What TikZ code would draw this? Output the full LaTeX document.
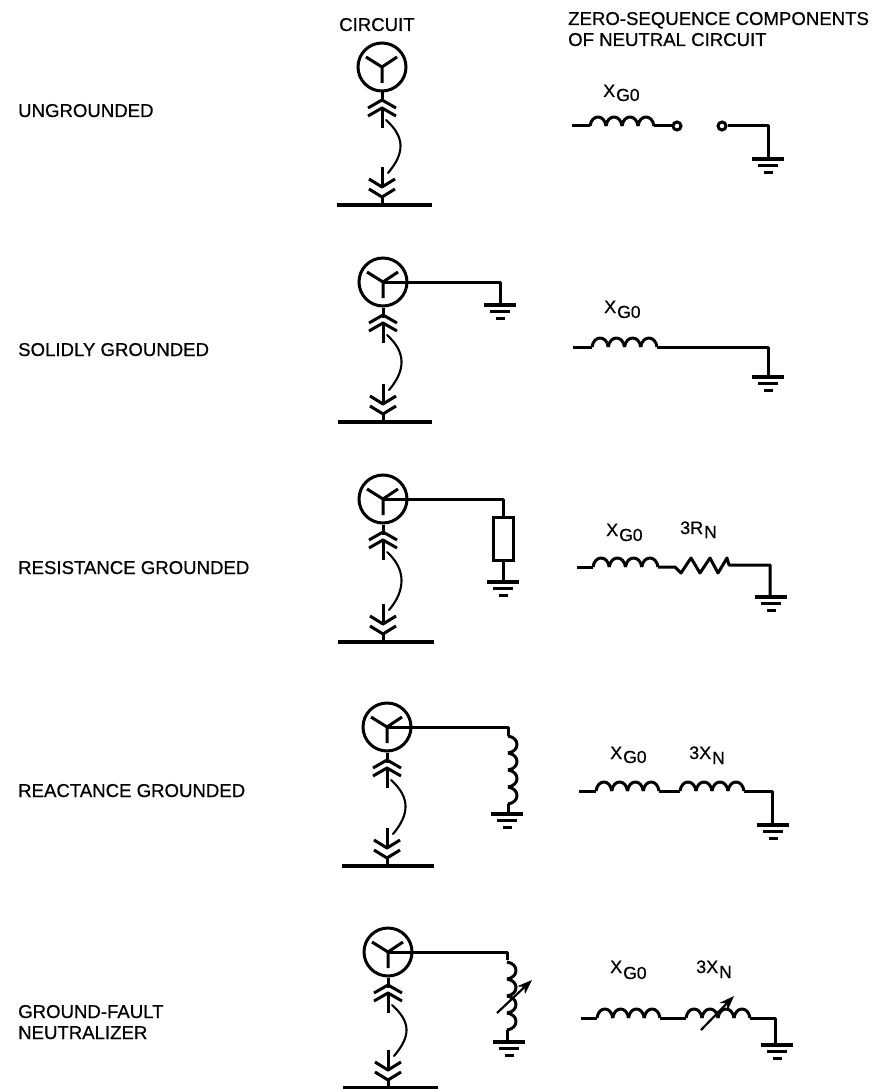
\documentclass[tikz,border=0pt]{standalone}
\usepackage{fontspec}
\setmainfont{Liberation Sans}
\newfontfamily\labfont[FakeBold=0.6]{Liberation Sans}
\usetikzlibrary{arrows.meta,calc}
\tikzset{
  x=1pt,y=-1pt,
  wire/.style={line width=3pt,line join=round},
  thinwire/.style={line width=2.1pt,line cap=round},
  busbar/.style={line width=3.2pt},
  gencircle/.style={circle,draw,line width=3pt,minimum size=48pt,inner sep=0pt},
  lab/.style={anchor=base west,inner sep=0pt,font=\labfont\fontsize{18.6}{20}\selectfont},
  sym/.style={anchor=base west,inner sep=0pt,font=\labfont\fontsize{18}{20}\selectfont},
  tuning/.style={line width=2.2pt,-{Stealth[length=15pt,width=11pt]}},
}
\newcommand\subtxt[2][-5]{\raisebox{#1pt}{\kern1pt\labfont\fontsize{17.5}{20}\selectfont #2}}
% generator with the two plugs and the bus: name, cx, cy, bus y, bus left, bus right
\newcommand\genset[6]{%
  \node[gencircle] (#1) at (#2,#3) {};
  \coordinate (#1busL) at (#5,#4);
  \coordinate (#1busR) at (#6,#4);
  \draw[busbar] (#1busL) -- (#1busR);
  \draw[wire] (#1.center) -- ++(-16,-10) (#1.center) -- ++(15,-10) (#1.center) -- ++(0,16);
  \draw[wire] (#1.south) -- ++(0,10);
  \draw[wire] ($(#2,#3)+(-14,41)$) -- ($(#2,#3)+(0,33)$) -- ($(#2,#3)+(14,41)$);
  \draw[wire] ($(#2,#3)+(-14,49)$) -- ($(#2,#3)+(0,41)$) -- ($(#2,#3)+(14,49)$);
  \draw[wire] ($(#2,#3)+(0,41)$) -- ($(#2,#3)+(0,61)$);
  \draw[thinwire] ($(#2,#3)+(4,53)$) .. controls ($(#2,#3)+(23,70)$) and (#2+23,#4-52) .. (#2+6,#4-32);
  \draw[wire] (#2,#4-38) -- (#2,#4-18);
  \draw[wire] (#2-13,#4-26) -- (#2,#4-18) -- (#2+13,#4-26);
  \draw[wire] (#2-13,#4-16) -- (#2,#4-8) -- (#2+13,#4-16);
  \draw[wire] (#2,#4-8) -- (#2,#4);
}
% ground symbol: x, y
\newcommand\gnd[2]{%
  \draw[line width=3.2pt] (#1-16,#2) -- (#1+16,#2);
  \draw[line width=3pt] (#1-10,#2+6.5) -- (#1+10,#2+6.5);
  \draw[line width=3.4pt] (#1-4.5,#2+13.5) -- (#1+4.5,#2+13.5);
}
% horizontal coil with 4 humps: x start, y, hump width
\newcommand\coilh[3]{%
  \foreach \k in {0,1,2,3}{%
    \draw[wire] ({#1+\k*#3},#2) .. controls ({#1+\k*#3+0.1*#3},#2-12) and ({#1+\k*#3+0.9*#3},#2-12) .. ({#1+(\k+1)*#3},#2);
  }%
}
% vertical coil with 4 humps bulging right: x, y start, hump height
\newcommand\coilv[3]{%
  \foreach \k in {0,1,2,3}{%
    \draw[wire] (#1,{#2+\k*#3}) .. controls (#1+12,{#2+\k*#3+0.1*#3}) and (#1+12,{#2+\k*#3+0.9*#3}) .. (#1,{#2+(\k+1)*#3});
  }%
}
\begin{document}
\begin{tikzpicture}
\useasboundingbox (0,0) rectangle (873,1089);
\fill[white] (0,0) rectangle (873,1089);

% headers and row labels
\node[lab] (hCircuit) at (339,31) {CIRCUIT};
\node[lab] (hZero) at (568,25) {ZERO-SEQUENCE COMPONENTS};
\node[lab] (hNeutral) at (568,46) {OF NEUTRAL CIRCUIT};
\node[lab] (r1) at (18,117) {UNGROUNDED};
\node[lab] (r2) at (18,356) {SOLIDLY GROUNDED};
\node[lab] (r3) at (18,574) {RESISTANCE GROUNDED};
\node[lab] (r4) at (18,797) {REACTANCE GROUNDED};
\node[lab] (r5a) at (18,1018) {GROUND-FAULT};
\node[lab] (r5b) at (18,1039) {NEUTRALIZER};

% row 1
\genset{g1}{382}{67}{205}{337}{432}
% row 2
\genset{g2}{383}{282}{422}{338}{432}
\coordinate (c2) at (500,282);
\coordinate (e2) at (500,305);
\draw[wire] (g2.center) -- (c2) -- (e2);
\gnd{500}{305}
% row 3
\genset{g3}{383}{499}{642}{338}{434}
\node[draw,line width=3pt,minimum width=20pt,minimum height=43pt,inner sep=0pt] (res) at (503,538.5) {};
\coordinate (c3) at (503,499);
\coordinate (e3) at (503,582);
\draw[wire] (g3.center) -- (c3) -- (res.north);
\draw[wire] (res.south) -- (e3);
\gnd{503}{582}
% row 4
\genset{g4}{387}{727}{866}{342}{434}
\coordinate (c4) at (508,727);
\coordinate (c4b) at (508,736);
\coordinate (c4c) at (508,804);
\coordinate (e4) at (508,814);
\draw[wire] (g4.center) -- (c4) -- (c4b);
\coilv{508}{736}{17}
\draw[wire] (c4c) -- (e4);
\gnd{507}{814}
% row 5
\genset{g5}{388}{952}{1088}{343}{438}
\coordinate (c5) at (507,952);
\coordinate (c5b) at (507,960);
\coordinate (c5c) at (507,1030);
\coordinate (e5) at (507,1042);
\draw[wire] (g5.center) -- (c5) -- (c5b);
\coilv{507}{962}{17}
\draw[wire] (c5c) -- (e5);
\gnd{509}{1042}
\coordinate (a5s) at (497,1013);
\coordinate (a5e) at (532,980);
\draw[tuning] (a5s) -- (a5e);

% right column, row 1
\node[sym] (x1) at (603,97) {X\subtxt[-4]{G0}};
\coordinate (w1) at (572,126);
\coordinate (w1a) at (590,126);
\coordinate (w1b) at (654,126);
\node[circle,draw,line width=3pt,minimum size=8pt,inner sep=0pt] (o1) at (677,126) {};
\node[circle,draw,line width=3pt,minimum size=8pt,inner sep=0pt] (o2) at (722,126) {};
\coordinate (c1) at (768,126);
\coordinate (e1) at (768,159);
\draw[wire] (w1) -- (w1a);
\coilh{590}{126}{16}
\draw[wire] (w1b) -- (o1);
\draw[wire] (o2) -- (c1) -- (e1);
\gnd{768}{159}

% right column, row 2
\node[sym] (x2) at (604,313) {X\subtxt[-5]{G0}};
\coordinate (w2) at (573,347);
\coordinate (w2a) at (592,347);
\coordinate (w2b) at (657,347);
\coordinate (w2c) at (768,347);
\coordinate (w2e) at (768,377);
\draw[wire] (w2) -- (w2a);
\coilh{592}{347}{16.25}
\draw[wire] (w2b) -- (w2c) -- (w2e);
\gnd{768}{377}

% right column, row 3
\node[sym] (x3) at (606,536) {X\subtxt[-5]{G0}};
\node[sym] (n3) at (680,534) {3R\subtxt[-4]{N}};
\coordinate (w3) at (577,567);
\coordinate (w3a) at (593,567);
\coordinate (w3b) at (658,567);
\coordinate (z3a) at (675,567);
\coordinate (z3b) at (729,565);
\coordinate (w3c) at (770,565);
\coordinate (w3e) at (770,597);
\draw[wire] (w3) -- (w3a);
\coilh{593}{567}{16.25}
\draw[wire] (w3b) -- (z3a) -- (681,573) -- (691,558) -- (700,573) -- (710,558) -- (718,573) -- (727,558) -- (z3b) -- (w3c) -- (w3e);
\gnd{771}{597}

% right column, row 4
\node[sym] (x4) at (610,759) {X\subtxt[-4]{G0}};
\node[sym] (n4) at (689,759) {3X\subtxt[-5]{N}};
\coordinate (w4) at (579,791);
\coordinate (w4a) at (596,791);
\coordinate (w4b) at (659,791);
\coordinate (w4c) at (680,791);
\coordinate (w4d) at (744,791);
\coordinate (w4e) at (772,791);
\coordinate (w4f) at (772,825);
\draw[wire] (w4) -- (w4a);
\coilh{596}{791}{15.75}
\draw[wire] (w4b) -- (w4c);
\coilh{680}{791}{16}
\draw[wire] (w4d) -- (w4e) -- (w4f);
\gnd{773}{825}

% right column, row 5
\node[sym] (x5) at (610,973) {X\subtxt[-6]{G0}};
\node[sym] (n5) at (696,973) {3X\subtxt[-5]{N}};
\coordinate (w5) at (581,1018);
\coordinate (w5a) at (597,1018);
\coordinate (w5b) at (660,1018);
\coordinate (w5c) at (686,1018);
\coordinate (w5d) at (750,1018);
\coordinate (w5e) at (775,1018);
\coordinate (w5f) at (775,1045);
\draw[wire] (w5) -- (w5a);
\coilh{597}{1018}{15.75}
\draw[wire] (w5b) -- (w5c);
\coilh{686}{1018}{16}
\draw[wire] (w5d) -- (w5e) -- (w5f);
\gnd{777}{1045}
\coordinate (a6s) at (701,1030);
\coordinate (a6e) at (734,996);
\draw[tuning] (a6s) -- (a6e);
\end{tikzpicture}
\end{document}
